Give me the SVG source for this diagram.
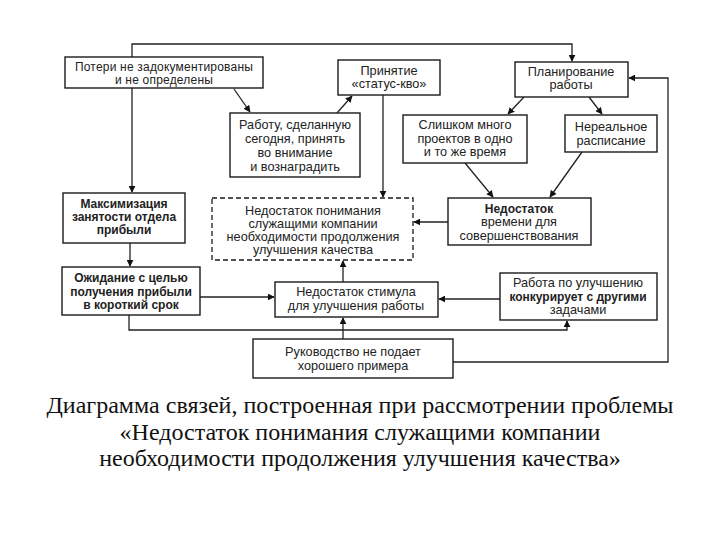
<svg xmlns="http://www.w3.org/2000/svg" width="720" height="540" viewBox="0 0 720 540">
<style>
.box{fill:#fff;stroke:#1a1a1a;stroke-width:1.4}
.dash{fill:#fff;stroke:#1a1a1a;stroke-width:1.3;stroke-dasharray:5 3}
.t{font-family:"Liberation Sans",Arial,sans-serif;font-size:12.7px;fill:#222;text-anchor:middle}
.s{font-size:12px;letter-spacing:0.2px}
.b{font-weight:bold;font-size:12px}
.cap{font-family:"Liberation Serif","Times New Roman",serif;font-size:24px;fill:#111;text-anchor:middle}
.c{fill:none;stroke:#222;stroke-width:1.3}
</style>
<defs>
<marker id="ah" viewBox="0 0 10 10" refX="9" refY="5" markerWidth="7" markerHeight="7" orient="auto" markerUnits="userSpaceOnUse">
<path d="M0,0 L10,5 L0,10 z" fill="#111"/>
</marker>
</defs>
<rect width="720" height="540" fill="#fff"/>
<g id="connectors">
<path class="c" d="M132,57 V44 H572 V61" marker-end="url(#ah)"/>
<path class="c" d="M132,88 V192" marker-end="url(#ah)"/>
<path class="c" d="M234,89 L250,112" marker-end="url(#ah)"/>
<path class="c" d="M337,113 L352,96" marker-end="url(#ah)"/>
<path class="c" d="M383,95 V197" marker-end="url(#ah)"/>
<path class="c" d="M524,97 L508,114" marker-end="url(#ah)"/>
<path class="c" d="M589,97 L602,114" marker-end="url(#ah)"/>
<path class="c" d="M465,163 L493,197" marker-end="url(#ah)"/>
<path class="c" d="M582,152 L550,197" marker-end="url(#ah)"/>
<path class="c" d="M448,222 H414" marker-end="url(#ah)"/>
<path class="c" d="M453,362 H668 V78 H629" marker-end="url(#ah)"/>
<path class="c" d="M130,243 V266" marker-end="url(#ah)"/>
<path class="c" d="M200,297 H274" marker-end="url(#ah)"/>
<path class="c" d="M343,282 V261" marker-end="url(#ah)"/>
<path class="c" d="M500,299 H439" marker-end="url(#ah)"/>
<path class="c" d="M343,339 V318" marker-end="url(#ah)"/>
<path class="c" d="M129,315 V330 H567 V321" marker-end="url(#ah)"/>
</g>
<g id="n1"><rect class="box" x="65" y="57" width="198" height="31"/>
<text class="t s"><tspan x="164" y="71">Потери не задокументированы</tspan><tspan x="164" y="84">и не определены</tspan></text></g>
<g id="n2"><rect class="box" x="338" y="60" width="102" height="35"/>
<text class="t"><tspan x="389" y="75">Принятие</tspan><tspan x="389" y="88">«статус-кво»</tspan></text></g>
<g id="n3"><rect class="box" x="515" y="62" width="113" height="35"/>
<text class="t"><tspan x="571" y="76">Планирование</tspan><tspan x="571" y="89">работы</tspan></text></g>
<g id="n4"><rect class="box" x="230" y="113" width="130" height="64"/>
<text class="t"><tspan x="295" y="129">Работу, сделанную</tspan><tspan x="295" y="143">сегодня, принять</tspan><tspan x="295" y="157">во внимание</tspan><tspan x="295" y="171">и вознаградить</tspan></text></g>
<g id="n5"><rect class="box" x="403" y="115" width="124" height="48"/>
<text class="t"><tspan x="465" y="129">Слишком много</tspan><tspan x="465" y="143">проектов в одно</tspan><tspan x="465" y="156">и то же время</tspan></text></g>
<g id="n6"><rect class="box" x="565" y="115" width="92" height="37"/>
<text class="t"><tspan x="611" y="131">Нереальное</tspan><tspan x="611" y="145">расписание</tspan></text></g>
<g id="n7"><rect class="box" x="63" y="193" width="122" height="50"/>
<text class="t b"><tspan x="124" y="208">Максимизация</tspan><tspan x="124" y="221">занятости отдела</tspan><tspan x="124" y="234">прибыли</tspan></text></g>
<g id="n8"><rect class="dash" x="212" y="198" width="201" height="62"/>
<text class="t"><tspan x="313" y="215">Недостаток понимания</tspan><tspan x="313" y="228">служащими компании</tspan><tspan x="313" y="241">необходимости продолжения</tspan><tspan x="313" y="254">улучшения качества</tspan></text></g>
<g id="n9"><rect class="box" x="448" y="198" width="143" height="47"/>
<text class="t"><tspan x="519" y="213" class="b">Недостаток</tspan><tspan x="519" y="226">времени для</tspan><tspan x="519" y="240">совершенствования</tspan></text></g>
<g id="n10"><rect class="box" x="62" y="267" width="138" height="48"/>
<text class="t b"><tspan x="131" y="282">Ожидание с целью</tspan><tspan x="131" y="296">получения прибыли</tspan><tspan x="131" y="309">в короткий срок</tspan></text></g>
<g id="n11"><rect class="box" x="275" y="282" width="163" height="35"/>
<text class="t"><tspan x="356" y="296">Недостаток стимула</tspan><tspan x="356" y="310">для улучшения работы</tspan></text></g>
<g id="n12"><rect class="box" x="500" y="273" width="157" height="47"/>
<text class="t"><tspan x="578" y="287">Работа по улучшению</tspan><tspan x="578" y="301" class="b">конкурирует с другими</tspan><tspan x="578" y="314">задачами</tspan></text></g>
<g id="n13"><rect class="box" x="253" y="339" width="200" height="39"/>
<text class="t"><tspan x="353" y="356">Руководство не подает</tspan><tspan x="353" y="370">хорошего примера</tspan></text></g>
<g id="caption">
<text class="cap"><tspan x="360" y="413">Диаграмма связей, построенная при рассмотрении проблемы</tspan><tspan x="360" y="440">«Недостаток понимания служащими компании</tspan><tspan x="360" y="466">необходимости продолжения улучшения качества»</tspan></text>
</g>
</svg>
